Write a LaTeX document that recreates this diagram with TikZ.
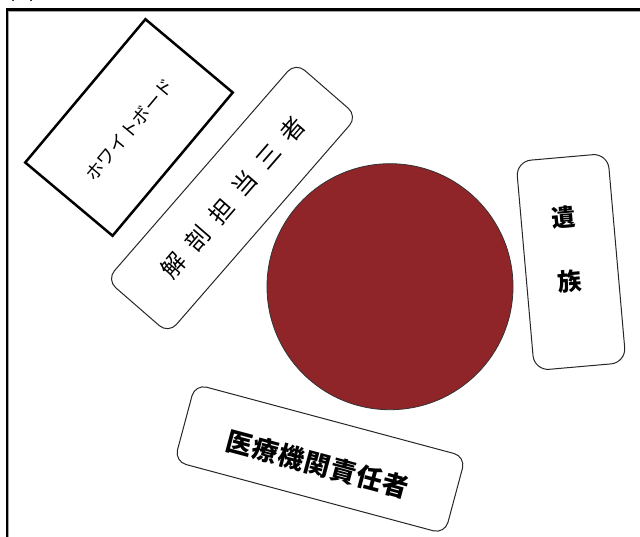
\documentclass[tikz,border=0pt]{standalone}
\usepackage{fontspec}
\newfontfamily\cjk{Noto Sans CJK JP}
\definecolor{tablered}{HTML}{8F2529}
\tikzset{
  board/.style={draw=black, line width=2.5pt, minimum width=187pt, minimum height=114pt, inner sep=0pt},
  card/.style={draw=black!85, line width=1pt, rounded corners=12pt, fill=white, inner sep=0pt},
  lbl/.style={inner sep=0pt},
}
\begin{document}
\begin{tikzpicture}[x=1pt,y=-1pt]
\useasboundingbox (0,0) rectangle (640,536);
% frame
\coordinate (fbl) at (7,545);
\coordinate (ftl) at (7,9.5);
\coordinate (ftr) at (650,9.5);
\draw[gray!70, line width=1pt] ([xshift=1.6pt]fbl) -- ([xshift=1.6pt,yshift=-1.6pt]ftl) -- ([yshift=-1.6pt]ftr);
\draw[black, line width=2.2pt] (fbl) -- (ftl) -- (ftr);
\node[lbl, font=\cjk\fontsize{24pt}{26pt}\selectfont, anchor=base west] (fig) at (10,-1) {図};
% whiteboard
\node[board, rotate=50] (wb) at (129,127.5) {};
\node[lbl, rotate=50, font=\cjk\fontsize{18pt}{20pt}\selectfont] (wbt) at (129.5,129.5) {ホワイトボード};
% table
\node[circle, draw=black!80, fill=tablered, line width=0.8pt, minimum size=246pt, inner sep=0pt] (table) at (390,286.7) {};
% dissection staff
\node[card, rotate=49, minimum width=288pt, minimum height=82pt] (staff) at (232,198) {};
\node[lbl, rotate=49, font=\cjk\fontsize{24pt}{26pt}\selectfont] (stafft) at (233,197.5)
  {解\hspace{12pt}剖\hspace{12pt}担\hspace{12pt}当\hspace{12pt}三\hspace{12pt}者};
% family
\node[card, rotate=5, minimum width=92pt, minimum height=210pt, rounded corners=15pt] (fam) at (571,262) {};
\node[lbl, rotate=5, font=\cjk\bfseries\fontsize{24pt}{26pt}\selectfont] (fam1) at (564,217.3) {遺};
\node[lbl, rotate=5, font=\cjk\bfseries\fontsize{24pt}{26pt}\selectfont] (fam2) at (570,281.7) {族};
% hospital manager
\node[card, rotate=-15, minimum width=280pt, minimum height=80pt] (mgr) at (320,459) {};
\node[lbl, rotate=-15, font=\cjk\bfseries\fontsize{26pt}{28pt}\selectfont] (mgrt) at (317.5,464.5)
  {医\hspace{1pt}療\hspace{1pt}機\hspace{1pt}関\hspace{1pt}責\hspace{1pt}任\hspace{1pt}者};
\end{tikzpicture}
\end{document}
